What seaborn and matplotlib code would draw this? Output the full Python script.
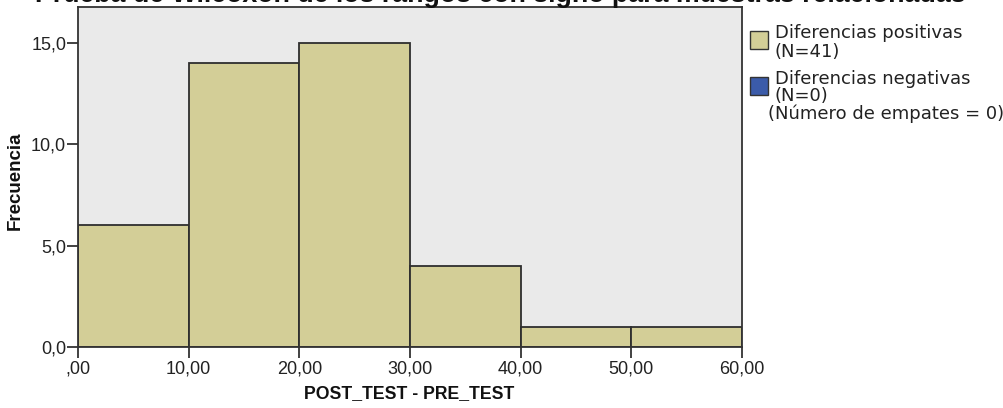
import matplotlib
matplotlib.use("Agg")
import matplotlib.pyplot as plt
from matplotlib.patches import Rectangle
import seaborn as sns

# Histogram of paired differences (POST_TEST - PRE_TEST)
bin_edges = [0, 10, 20, 30, 40, 50, 60]
frequencies = [6, 14, 15, 4, 1, 1]
x_tick_values = [0, 10, 20, 30, 40, 50, 60]
x_tick_labels = [",00", "10,00", "20,00", "30,00", "40,00", "50,00", "60,00"]
y_tick_values = [0, 5, 10, 15]
y_tick_labels = ["0,0", "5,0", "10,0", "15,0"]

title = "Prueba de Wilcoxon de los rangos con signo para muestras relacionadas"
legend_pos = ["Diferencias positivas", "(N=41)"]
legend_neg = ["Diferencias negativas", "(N=0)"]
ties_note = "(Número de empates = 0)"

W, H = 1004, 408
FILL = "#d3ce97"
NEG = "#3b5ba9"
EDGE = "#2e2e2e"
BG = "#eaeaea"

sns.set_style("white")
plt.rcParams["font.family"] = ["Liberation Sans", "DejaVu Sans"]

fig = plt.figure(figsize=(W / 100, H / 100), dpi=100)
ax = fig.add_axes([78 / W, 1 - 347 / H, 664 / W, 340 / H])
ax.set_facecolor(BG)

mids = [(a + b) / 2 for a, b in zip(bin_edges[:-1], bin_edges[1:])]
sns.histplot(x=mids, weights=frequencies, bins=bin_edges, stat="count",
             color=FILL, edgecolor=EDGE, linewidth=1.3, alpha=1.0, ax=ax)

ax.set_xlim(0, 60)
ax.set_ylim(0, 16.77)
ax.set_xticks(x_tick_values)
ax.set_xticklabels(x_tick_labels)
ax.set_yticks(y_tick_values)
ax.set_yticklabels(y_tick_labels)
ax.tick_params(axis="both", which="major", bottom=True, left=True,
               direction="out", length=8, width=1.3,
               color="#333333", labelsize=13, labelcolor="#222222")
ax.tick_params(axis="x", pad=2)
ax.tick_params(axis="y", pad=0.5)
for sp in ax.spines.values():
    sp.set_visible(True)
    sp.set_color("#333333")
    sp.set_linewidth(1.3)

ax.set_xlabel("POST_TEST - PRE_TEST", fontsize=12.7, fontweight="bold", color="#111111")
ax.set_ylabel("Frecuencia", fontsize=13.5, fontweight="bold", color="#111111")
ax.xaxis.set_label_coords(0.4985, -0.112)
ax.yaxis.set_label_coords(-0.0813, 0.488)

# Title sits at the very top edge of the canvas
fig.text(500 / W, 1 - 1.5 / H, title, ha="center", va="baseline",
         fontsize=19.3, fontweight="bold", color="#111111")

# Legend on the right
def fx(px):
    return px / W

def fy(py):
    return 1 - py / H

leg_font = dict(fontsize=13, family=["DejaVu Sans"], color="#222222", va="baseline", ha="left")
for (y0, y1), color in [((31, 49), FILL), ((77, 95), NEG)]:
    fig.add_artist(Rectangle((fx(750), fy(y1)), fx(768) - fx(750), fy(y0) - fy(y1),
                             transform=fig.transFigure, facecolor=color,
                             edgecolor="#333333", linewidth=1.0))
fig.text(fx(775), fy(38), legend_pos[0], **leg_font)
fig.text(fx(775), fy(57), legend_pos[1], **leg_font)
fig.text(fx(775), fy(84), legend_neg[0], **leg_font)
fig.text(fx(775), fy(101), legend_neg[1], **leg_font)
fig.text(fx(768), fy(119), ties_note, **leg_font)

fig.savefig("out.png", dpi=100)
